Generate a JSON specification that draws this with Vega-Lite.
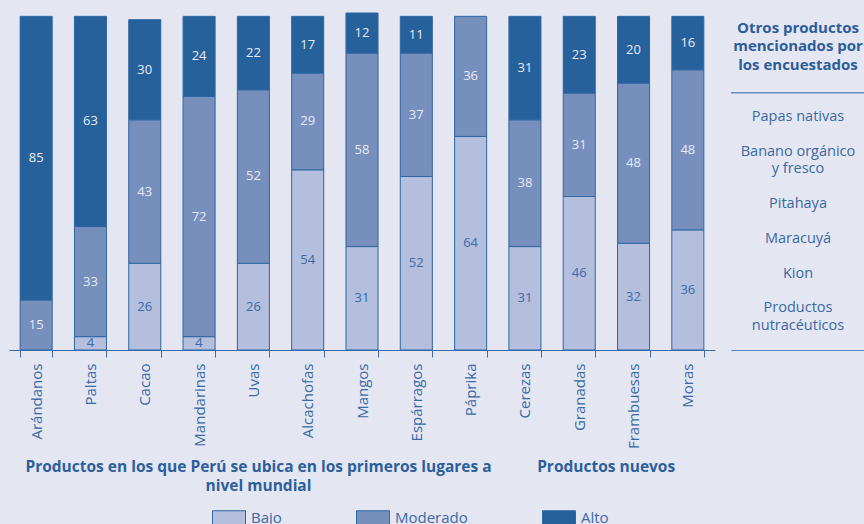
{
  "$schema": "https://vega.github.io/schema/vega-lite/v6.json",
  "background": "#e4e6f1",
  "padding": {"left": 2, "top": 12, "right": 0, "bottom": 0},
  "config": {"view": {"stroke": null}, "font": "Open Sans"},
  "spacing": 15,
  "hconcat": [
    {
      "width": 706,
      "height": 337,
      "data": {"values": [
        {"producto": "Arándanos", "nivel": "Moderado", "rango": 2, "valor": 15},
        {"producto": "Arándanos", "nivel": "Alto", "rango": 3, "valor": 85},
        {"producto": "Paltas", "nivel": "Bajo", "rango": 1, "valor": 4},
        {"producto": "Paltas", "nivel": "Moderado", "rango": 2, "valor": 33},
        {"producto": "Paltas", "nivel": "Alto", "rango": 3, "valor": 63},
        {"producto": "Cacao", "nivel": "Bajo", "rango": 1, "valor": 26},
        {"producto": "Cacao", "nivel": "Moderado", "rango": 2, "valor": 43},
        {"producto": "Cacao", "nivel": "Alto", "rango": 3, "valor": 30},
        {"producto": "Mandarinas", "nivel": "Bajo", "rango": 1, "valor": 4},
        {"producto": "Mandarinas", "nivel": "Moderado", "rango": 2, "valor": 72},
        {"producto": "Mandarinas", "nivel": "Alto", "rango": 3, "valor": 24},
        {"producto": "Uvas", "nivel": "Bajo", "rango": 1, "valor": 26},
        {"producto": "Uvas", "nivel": "Moderado", "rango": 2, "valor": 52},
        {"producto": "Uvas", "nivel": "Alto", "rango": 3, "valor": 22},
        {"producto": "Alcachofas", "nivel": "Bajo", "rango": 1, "valor": 54},
        {"producto": "Alcachofas", "nivel": "Moderado", "rango": 2, "valor": 29},
        {"producto": "Alcachofas", "nivel": "Alto", "rango": 3, "valor": 17},
        {"producto": "Mangos", "nivel": "Bajo", "rango": 1, "valor": 31},
        {"producto": "Mangos", "nivel": "Moderado", "rango": 2, "valor": 58},
        {"producto": "Mangos", "nivel": "Alto", "rango": 3, "valor": 12},
        {"producto": "Espárragos", "nivel": "Bajo", "rango": 1, "valor": 52},
        {"producto": "Espárragos", "nivel": "Moderado", "rango": 2, "valor": 37},
        {"producto": "Espárragos", "nivel": "Alto", "rango": 3, "valor": 11},
        {"producto": "Páprika", "nivel": "Bajo", "rango": 1, "valor": 64},
        {"producto": "Páprika", "nivel": "Moderado", "rango": 2, "valor": 36},
        {"producto": "Cerezas", "nivel": "Bajo", "rango": 1, "valor": 31},
        {"producto": "Cerezas", "nivel": "Moderado", "rango": 2, "valor": 38},
        {"producto": "Cerezas", "nivel": "Alto", "rango": 3, "valor": 31},
        {"producto": "Granadas", "nivel": "Bajo", "rango": 1, "valor": 46},
        {"producto": "Granadas", "nivel": "Moderado", "rango": 2, "valor": 31},
        {"producto": "Granadas", "nivel": "Alto", "rango": 3, "valor": 23},
        {"producto": "Frambuesas", "nivel": "Bajo", "rango": 1, "valor": 32},
        {"producto": "Frambuesas", "nivel": "Moderado", "rango": 2, "valor": 48},
        {"producto": "Frambuesas", "nivel": "Alto", "rango": 3, "valor": 20},
        {"producto": "Moras", "nivel": "Bajo", "rango": 1, "valor": 36},
        {"producto": "Moras", "nivel": "Moderado", "rango": 2, "valor": 48},
        {"producto": "Moras", "nivel": "Alto", "rango": 3, "valor": 16}
      ]},
      "layer": [
        {
          "mark": {"type": "bar", "stroke": "#2f66a3", "strokeWidth": 1},
          "encoding": {
            "x": {
              "field": "producto", "type": "nominal",
              "scale": {"domain": ["Arándanos", "Paltas", "Cacao", "Mandarinas", "Uvas", "Alcachofas", "Mangos", "Espárragos", "Páprika", "Cerezas", "Granadas", "Frambuesas", "Moras"], "paddingInner": 0.41, "paddingOuter": 0.205},
              "axis": {"title": null, "labelAngle": -90, "labelAlign": "right", "labelBaseline": "middle", "labelFontSize": 15, "labelColor": "#3a69a5", "labelPadding": 6, "domainColor": "#3a69a5", "domainWidth": 1.2, "tickColor": "#3a69a5", "tickSize": 7, "tickBand": "extent", "grid": false}
            },
            "y": {"field": "valor", "type": "quantitative", "stack": "zero", "scale": {"domain": [0, 101], "nice": false}, "axis": null},
            "color": {
              "field": "nivel", "type": "nominal",
              "scale": {"domain": ["Bajo", "Moderado", "Alto"], "range": ["#b3bfdc", "#768fbd", "#26619c"]},
              "legend": {"orient": "none", "legendX": 202, "legendY": 497, "direction": "horizontal", "title": null, "symbolType": "M-2.2,-1H2.2V1H-2.2Z", "symbolSize": 225, "symbolStrokeColor": "#2f66a3", "symbolStrokeWidth": 1, "symbolOpacity": 1, "labelFontSize": 15, "labelColor": "#3a69a5", "labelOffset": 14, "symbolOffset": 10, "columnPadding": 72}
            },
            "order": {"field": "rango", "type": "quantitative"}
          }
        },
        {
          "mark": {"type": "text", "fontSize": 13},
          "encoding": {
            "x": {"field": "producto", "type": "nominal"},
            "y": {"field": "valor", "type": "quantitative", "stack": "zero", "bandPosition": 0.5},
            "detail": {"field": "nivel"},
            "order": {"field": "rango", "type": "quantitative"},
            "text": {"field": "valor", "type": "quantitative"},
            "color": {"condition": {"test": "datum.nivel === 'Bajo'", "value": "#3b6aa8"}, "value": "#e6ebf5"}
          }
        },
        {
          "data": {"values": [{}]},
          "mark": {"type": "text", "text": ["Productos en los que Perú se ubica en los primeros lugares a", "nivel mundial"], "fontWeight": "bold", "fontSize": 15.5, "lineHeight": 19, "color": "#2c5f9c", "baseline": "top", "align": "center"},
          "encoding": {"x": {"datum": "Uvas", "bandPosition": 0.66}, "y": {"datum": -33}}
        },
        {
          "data": {"values": [{}]},
          "mark": {"type": "text", "text": "Productos nuevos", "fontWeight": "bold", "fontSize": 15.5, "color": "#2c5f9c", "baseline": "top", "align": "center"},
          "encoding": {"x": {"datum": "Granadas", "bandPosition": 1.34}, "y": {"datum": -33}}
        }
      ]
    },
    {
      "width": 134,
      "height": 337,
      "resolve": {"scale": {"y": "independent"}},
      "layer": [
        {
          "data": {"values": [{}]},
          "mark": {"type": "text", "text": ["Otros productos", "mencionados por", "los encuestados"], "fontWeight": "bold", "fontSize": 15, "lineHeight": 18.5, "color": "#2c5d9a", "baseline": "middle", "align": "center"},
          "encoding": {
            "x": {"datum": 0.5, "type": "quantitative", "scale": {"domain": [0, 1], "nice": false}, "axis": {"title": null, "domain": true, "domainColor": "#5a80b8", "domainWidth": 1.2, "ticks": false, "labels": false, "grid": false}},
            "y": {"datum": 95.55, "type": "quantitative", "scale": {"domain": [0, 100], "nice": false}, "axis": null}
          }
        },
        {
          "data": {"values": [{}]},
          "mark": {"type": "rule", "color": "#6a8cc0", "strokeWidth": 1.5},
          "encoding": {"x": {"datum": 0}, "x2": {"datum": 1}, "y": {"datum": 76.3, "type": "quantitative", "scale": {"domain": [0, 100], "nice": false}, "axis": null}}
        },
        {
          "data": {"values": [
            {"linea": "Papas nativas"},
            {"linea": "Banano orgánico"},
            {"linea": "y fresco"},
            {"linea": "Pitahaya"},
            {"linea": "Maracuyá"},
            {"linea": "Kion"},
            {"linea": "Productos"},
            {"linea": "nutracéuticos"}
          ]},
          "mark": {"type": "text", "fontSize": 14.5, "color": "#3a69a5", "baseline": "middle", "align": "center"},
          "encoding": {
            "x": {"datum": 0.5},
            "y": {"field": "linea", "type": "ordinal", "scale": {"type": "point", "domain": ["esp_a", "esp_b", "esp_c", "esp_d", "esp_e", "Papas nativas", "esp1", "Banano orgánico", "y fresco", "esp2", "Pitahaya", "esp3", "Maracuyá", "esp4", "Kion", "esp5", "Productos", "nutracéuticos", "esp_z"], "padding": 0.685, "align": 0.713}, "axis": null},
            "text": {"field": "linea", "type": "nominal"}
          }
        }
      ]
    }
  ]
}
